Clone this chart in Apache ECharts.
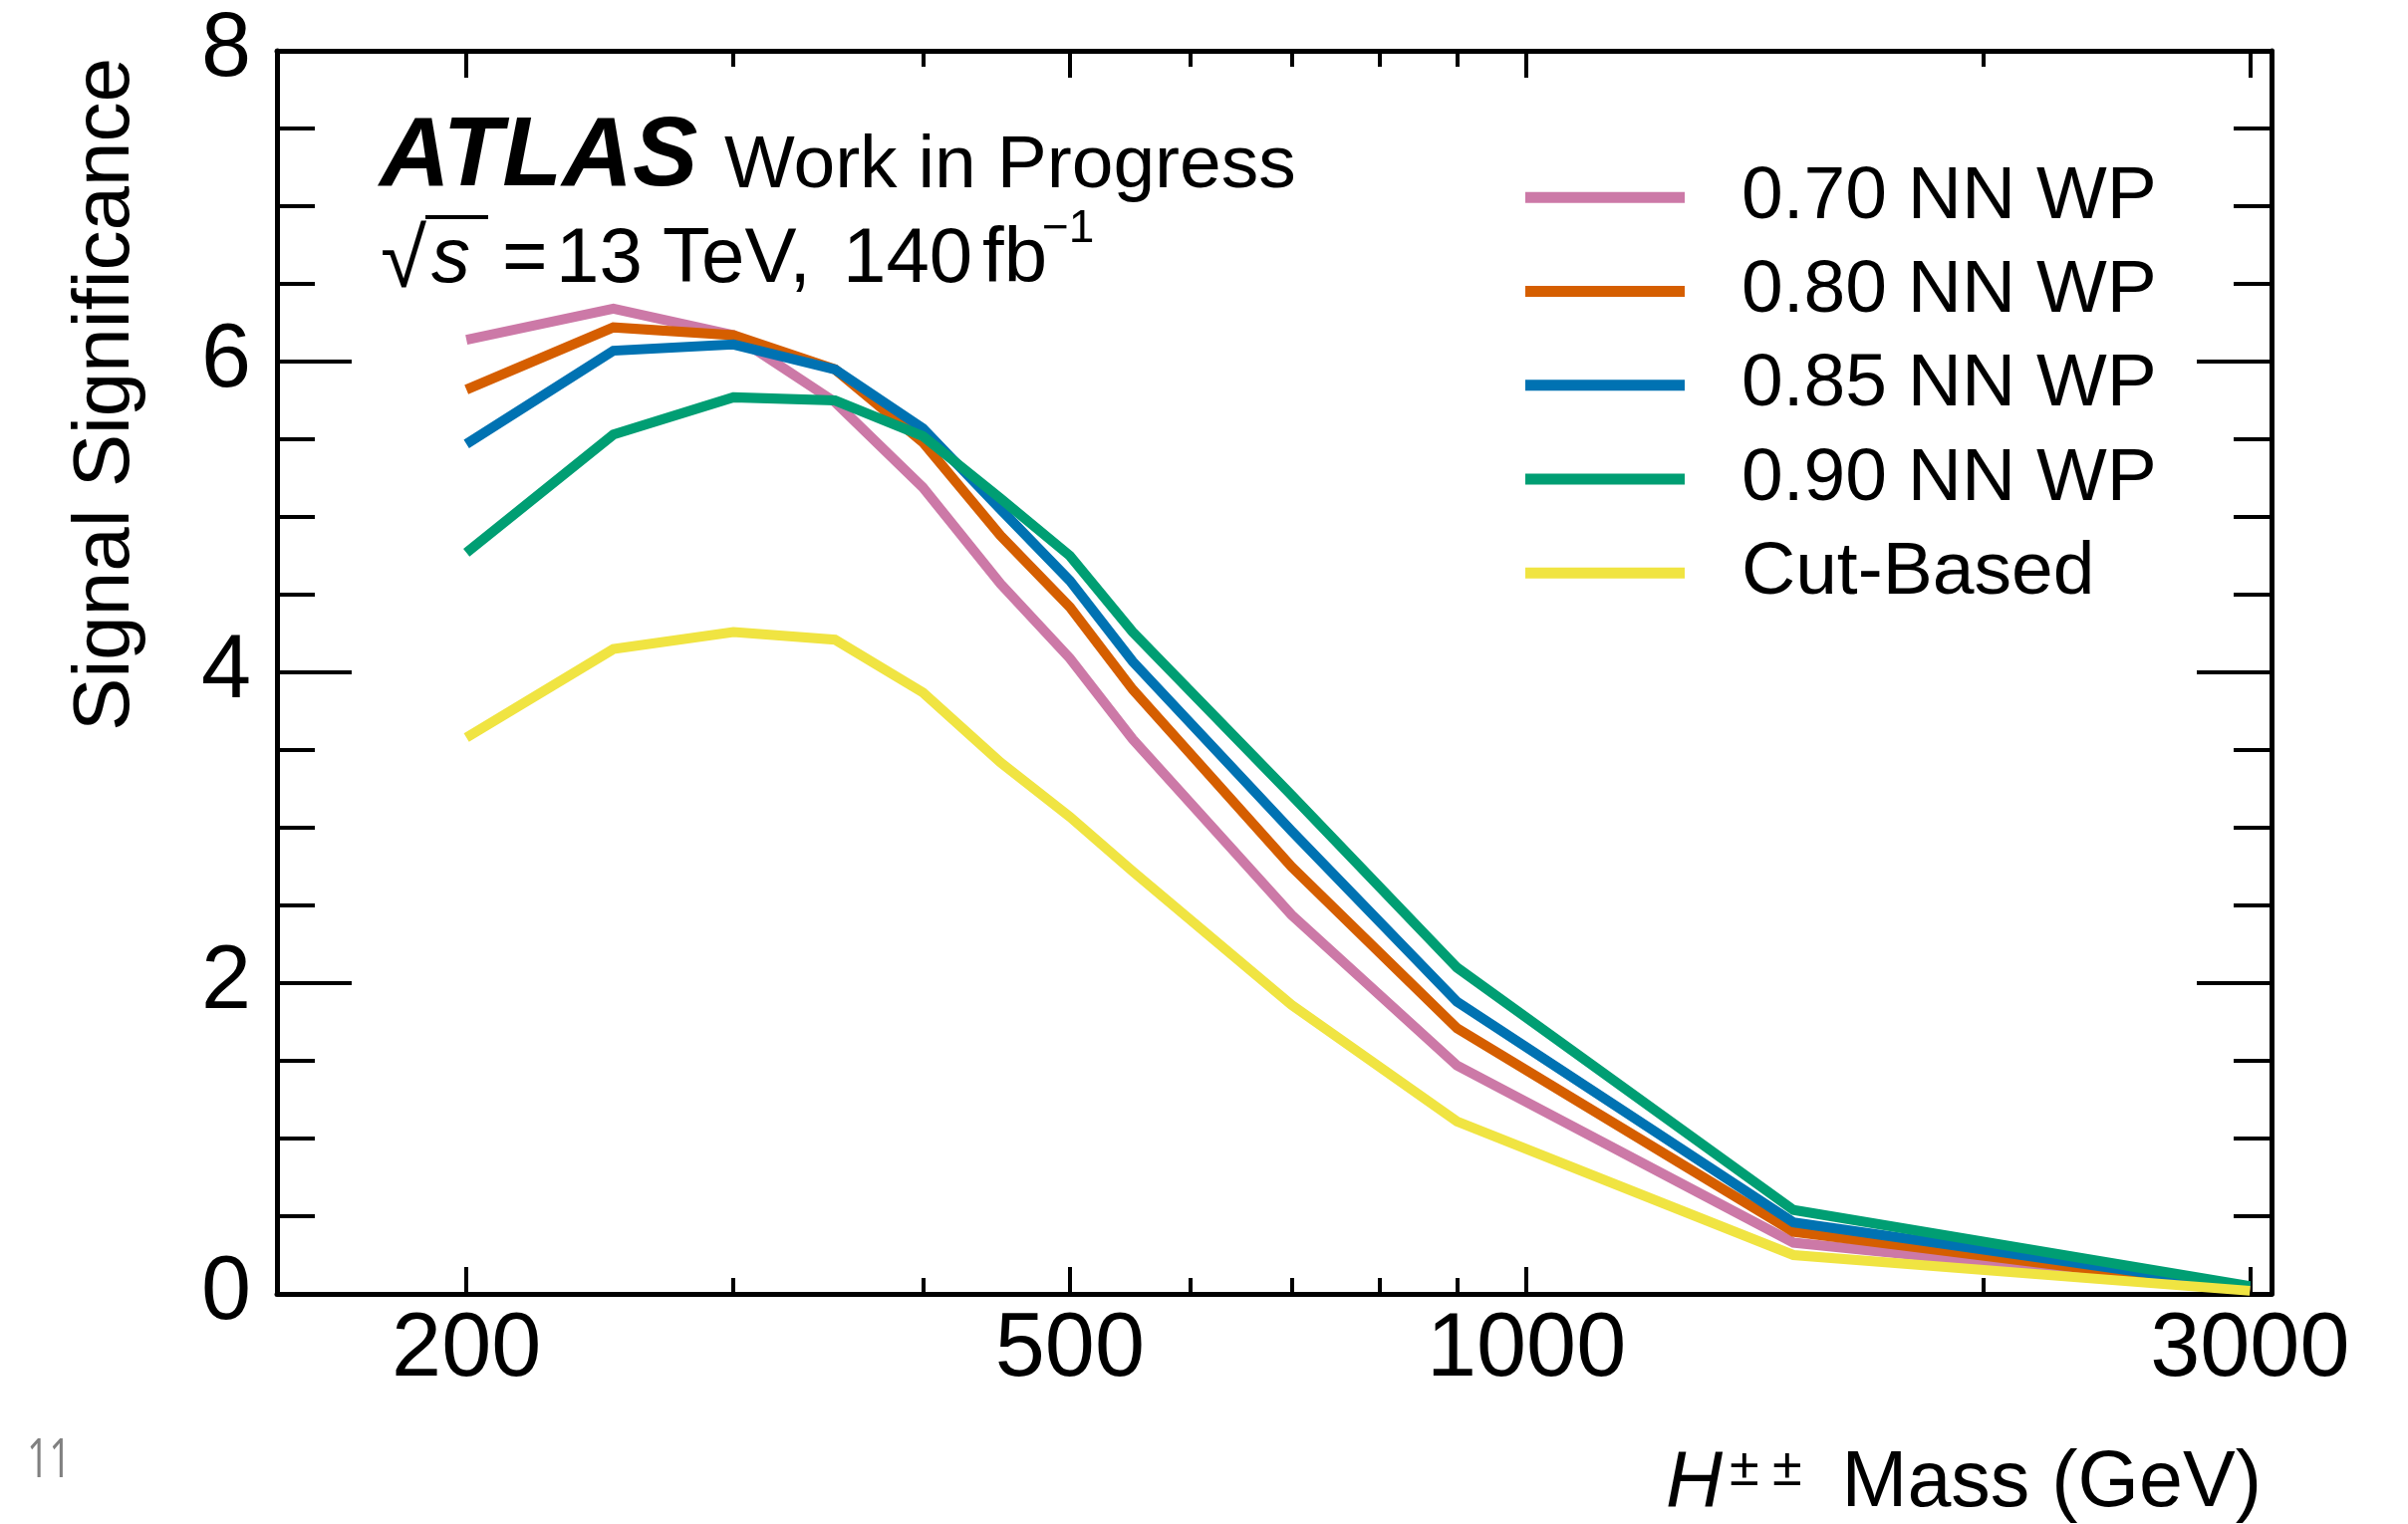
<!DOCTYPE html>
<html>
<head>
<meta charset="utf-8">
<title>Signal Significance vs H±± Mass</title>
<script src="https://cdn.jsdelivr.net/npm/echarts@6/dist/echarts.min.js"></script>
<style>
  html, body { margin: 0; padding: 0; background: #ffffff; }
  #chart { width: 2417px; height: 1530px; }
</style>
</head>
<body>
<div id="chart"></div>
<script>
// Mass points (GeV) and expected signal significance per selection
const massPoints = [200, 250, 300, 350, 400, 450, 500, 550, 700, 900, 1500, 3000];
const wp070 = [6.14, 6.34, 6.17, 5.74, 5.19, 4.57, 4.09, 3.57, 2.44, 1.47, 0.33, 0.03];
const wp080 = [5.82, 6.22, 6.17, 5.95, 5.48, 4.88, 4.42, 3.89, 2.75, 1.71, 0.40, 0.03];
const wp085 = [5.47, 6.07, 6.11, 5.95, 5.57, 5.05, 4.59, 4.07, 2.98, 1.88, 0.46, 0.04];
const wp090 = [4.77, 5.53, 5.77, 5.75, 5.52, 5.12, 4.75, 4.26, 3.21, 2.10, 0.54, 0.05];
const cutBased = [3.58, 4.15, 4.26, 4.21, 3.87, 3.42, 3.07, 2.72, 1.86, 1.11, 0.25, 0.02];

const seriesNames = ['0.70 NN WP', '0.80 NN WP', '0.85 NN WP', '0.90 NN WP', 'Cut-Based'];
const seriesValues = [wp070, wp080, wp085, wp090, cutBased];
const seriesColors = ['#CC79A7', '#D55E00', '#0072B2', '#009E73', '#F0E442'];

// Axis ranges and tick marks
const xRange = [150, 3100];
const xMajorTicks = [200, 500, 1000, 3000];
const xMinorTicks = [300, 400, 600, 700, 800, 900, 2000];
const yRange = [0, 8];
const yMajorStep = 2;

const FONT = '"Liberation Sans", Arial, Helvetica, sans-serif';
const lg = v => Math.log10(v);

const chart = echarts.init(document.getElementById('chart'), null, { renderer: 'canvas' });

// Tick-only axes living in log10 space, overlaid on the log data axis
function tickAxis(position, ticks, length, withLabels) {
  const vals = ticks.map(lg);
  return {
    type: 'value',
    gridIndex: 0,
    position: position,
    min: lg(xRange[0]),
    max: lg(xRange[1]),
    axisLine: { show: false, onZero: false },
    axisTick: {
      show: true, inside: true, length: length, customValues: vals,
      lineStyle: { color: '#000', width: 4 }
    },
    axisLabel: withLabels ? {
      show: true, customValues: vals, margin: 12,
      fontFamily: FONT, fontSize: 90, color: '#000',
      formatter: v => String(Math.round(Math.pow(10, v)))
    } : { show: false },
    splitLine: { show: false }
  };
}

const yAxisCommon = {
  type: 'value',
  min: yRange[0],
  max: yRange[1],
  interval: yMajorStep,
  axisLine: { show: true, onZero: false, lineStyle: { color: '#000', width: 5 } },
  axisTick: { show: true, inside: true, length: 75, lineStyle: { color: '#000', width: 4 } },
  minorTick: { show: true, splitNumber: 4, length: 38, lineStyle: { color: '#000', width: 4 } },
  splitLine: { show: false },
  minorSplitLine: { show: false }
};

// Plain text helper for the annotation block
function txt(x, y, text, font, extra) {
  return Object.assign({
    type: 'text', x: x, y: y,
    style: { text: text, font: font, fill: '#000', align: 'left', verticalAlign: 'middle' }
  }, extra || {});
}

const infoY = 261;
const infoFont = '78px ' + FONT;

const option = {
  backgroundColor: '#ffffff',
  animation: false,
  grid: { left: 278, right: 137, top: 51, bottom: 231 },
  xAxis: [
    {
      type: 'log', logBase: 10, gridIndex: 0, position: 'bottom',
      min: xRange[0], max: xRange[1],
      axisLine: { show: true, onZero: false, lineStyle: { color: '#000', width: 5 } },
      axisTick: { show: false },
      axisLabel: { show: false },
      splitLine: { show: false },
      minorTick: { show: false },
      minorSplitLine: { show: false }
    },
    tickAxis('bottom', xMajorTicks, 27, true),
    tickAxis('bottom', xMinorTicks, 16, false),
    Object.assign(tickAxis('top', xMajorTicks, 27, false), {
      axisLine: { show: true, onZero: false, lineStyle: { color: '#000', width: 5 } }
    }),
    tickAxis('top', xMinorTicks, 16, false)
  ],
  yAxis: [
    Object.assign({}, yAxisCommon, {
      position: 'left',
      axisLabel: { show: true, margin: 26, fontFamily: FONT, fontSize: 90, color: '#000' }
    }),
    Object.assign({}, yAxisCommon, {
      position: 'right',
      axisLabel: { show: false }
    })
  ],
  legend: {
    orient: 'vertical',
    left: 1531,
    top: 151,
    padding: 0,
    itemGap: 0,
    itemWidth: 160,
    itemHeight: 11,
    icon: 'rect',
    selectedMode: false,
    data: seriesNames,
    textStyle: {
      fontFamily: FONT, fontSize: 75, color: '#000',
      lineHeight: 94.3, padding: [0, 0, 0, 52]
    }
  },
  series: seriesNames.map((name, i) => ({
    name: name,
    type: 'line',
    xAxisIndex: 0,
    yAxisIndex: 0,
    data: massPoints.map((m, j) => [m, seriesValues[i][j]]),
    showSymbol: false,
    symbol: 'none',
    clip: true,
    color: seriesColors[i],
    lineStyle: { color: seriesColors[i], width: 10, cap: 'butt', join: 'miter' },
    emphasis: { disabled: true },
    z: 2 + i
  })),
  graphic: [
    // Experiment label
    txt(381, 159, 'ATLAS', 'italic bold 98px ' + FONT),
    txt(727, 167, 'Work in Progress', '75px ' + FONT),
    // Centre-of-mass energy and luminosity
    txt(382, infoY + 4, '\u221A', '84px ' + FONT),
    { type: 'line', shape: { x1: 427, y1: 218, x2: 490, y2: 218 },
      style: { stroke: '#000', lineWidth: 4 } },
    txt(433, infoY, 's', 'italic ' + infoFont),
    txt(504, infoY, '=', infoFont),
    txt(558, infoY, '13', infoFont),
    txt(665, infoY, 'TeV,', infoFont),
    txt(846, infoY, '140', infoFont),
    txt(986, infoY, 'fb', infoFont),
    txt(1046, 230, '\u22121', '46px ' + FONT),
    // Axis titles
    { type: 'text', x: 107, y: 58, rotation: Math.PI / 2,
      style: { text: 'Signal Significance', font: '80px ' + FONT, fill: '#000', align: 'right', verticalAlign: 'middle' } },
    txt(1672, 1490, 'H', 'italic 79px ' + FONT),
    txt(1736, 1476, '\u00B1', '54px ' + FONT),
    txt(1779, 1476, '\u00B1', '54px ' + FONT),
    { type: 'text', x: 2270, y: 1490,
      style: { text: 'Mass (GeV)', font: '79px ' + FONT, fill: '#000', align: 'right', verticalAlign: 'middle' } },
    // Page number
    { type: 'text', x: 27, y: 1468, scaleX: 0.72,
      style: { text: '11', font: '54px "Open Sans", ' + FONT, fill: '#808080', align: 'left', verticalAlign: 'middle' } }
  ]
};

chart.setOption(option);
</script>
</body>
</html>
